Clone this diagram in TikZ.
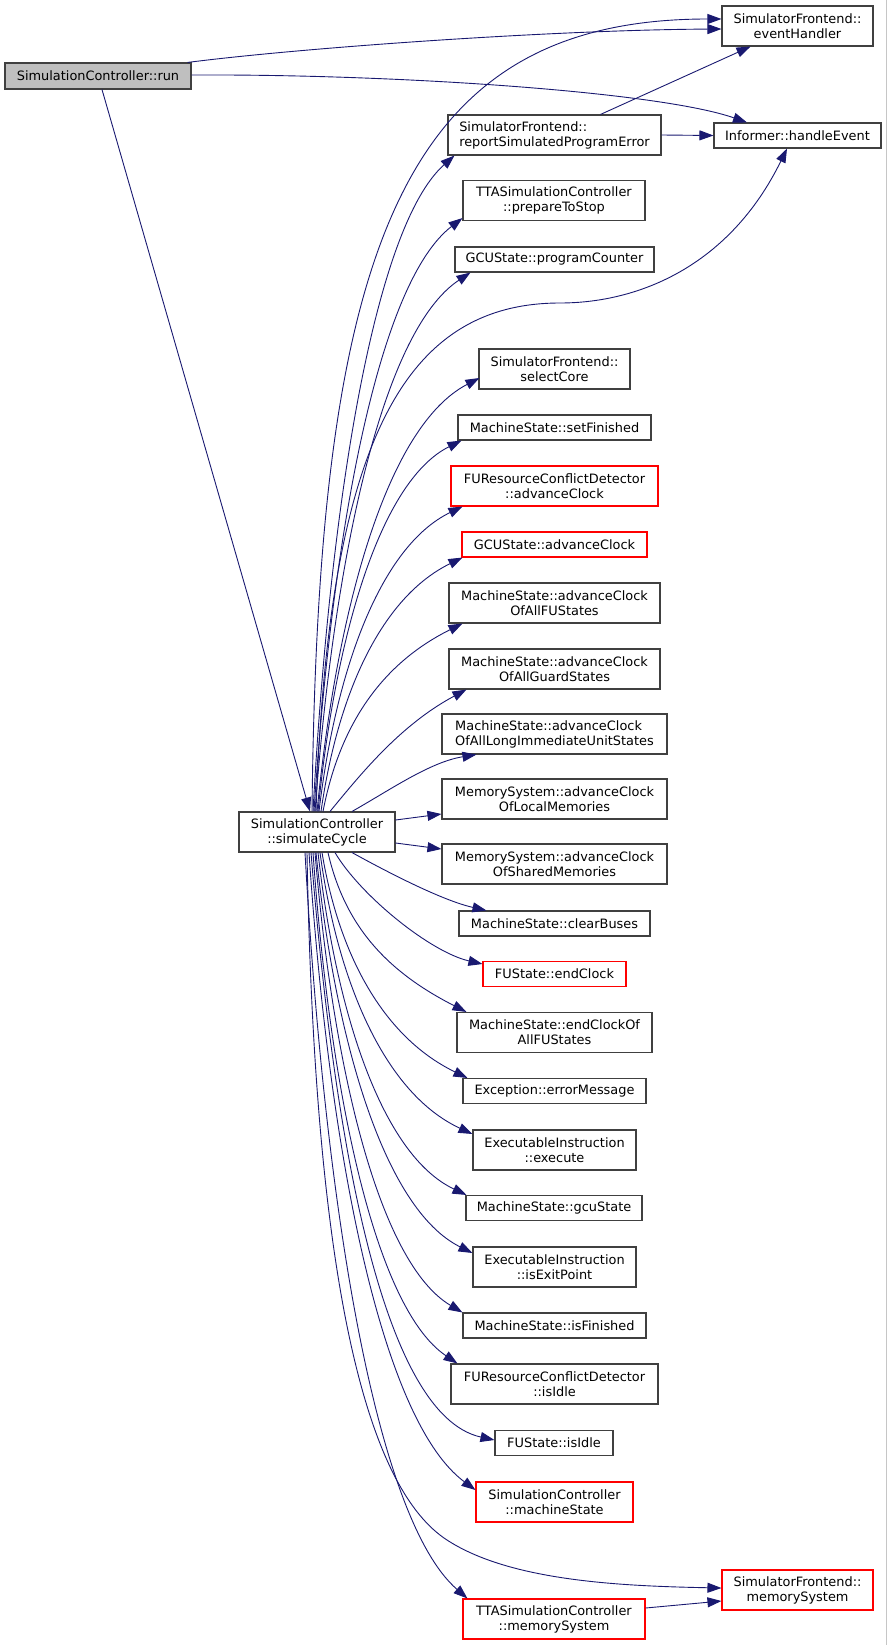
\documentclass[tikz,border=0pt]{standalone}
\usepackage{fontspec}
\setmainfont{DejaVu Sans}
\usetikzlibrary{arrows.meta,calc}
\definecolor{edgecol}{HTML}{191970}
\definecolor{boxcol}{HTML}{404040}
\definecolor{runfill}{HTML}{BFBFBF}
\begin{document}
\begin{tikzpicture}[x=1pt,y=-1pt,
  box/.style={draw=boxcol, line width=1.1pt, inner sep=0pt, align=center,
    font=\fontsize{12.9}{15}\selectfont, text=black},
  redbox/.style={box, draw=red},
  edge/.style={draw=edgecol, line width=0.9pt, -{Triangle[length=14pt,width=10pt]}}]
\useasboundingbox (0,0) rectangle (887,1645);
\draw[gray!45, line width=1pt] (886.5,0) -- (886.5,1645);

% nodes
\node[box, fill=runfill, minimum width=186, minimum height=26] (run) at (98,76) {SimulationController::run};
\node[box, minimum width=156, minimum height=40] (sc) at (317,832) {SimulationController\\::simulateCycle};
\node[box, minimum width=151, minimum height=40] (eh) at (797.5,26) {SimulatorFrontend::\\eventHandler};
\node[box, minimum width=167, minimum height=25] (he) at (797.5,135.5) {Informer::handleEvent};
\node[box, align=left, minimum width=213, minimum height=40] (rep) at (554.5,135) {SimulatorFrontend::\\reportSimulatedProgramError};
\node[box, minimum width=182, minimum height=40] (pts) at (554,200.5) {TTASimulationController\\::prepareToStop};
\node[box, minimum width=199, minimum height=25] (pc) at (554.5,259.5) {GCUState::programCounter};
\node[box, minimum width=151, minimum height=40] (selc) at (554.5,369) {SimulatorFrontend::\\selectCore};
\node[box, minimum width=193, minimum height=25] (setf) at (554.5,427.5) {MachineState::setFinished};
\node[redbox, minimum width=207, minimum height=40] (furac) at (554.5,486) {FUResourceConflictDetector\\::advanceClock};
\node[redbox, minimum width=185, minimum height=25] (gcuac) at (554.5,544.5) {GCUState::advanceClock};
\node[box, minimum width=211, minimum height=40] (acfu) at (554.5,603) {MachineState::advanceClock\\OfAllFUStates};
\node[box, minimum width=211, minimum height=40] (acg) at (554.5,669) {MachineState::advanceClock\\OfAllGuardStates};
\node[box, align=left, minimum width=225, minimum height=40] (acli) at (554.5,734) {MachineState::advanceClock\\OfAllLongImmediateUnitStates};
\node[box, minimum width=225, minimum height=40] (aclm) at (554.5,799) {MemorySystem::advanceClock\\OfLocalMemories};
\node[box, minimum width=225, minimum height=40] (acsm) at (554.5,864) {MemorySystem::advanceClock\\OfSharedMemories};
\node[box, minimum width=191, minimum height=25] (cb) at (554.5,923.5) {MachineState::clearBuses};
\node[redbox, minimum width=143, minimum height=25] (fuec) at (554.5,974) {FUState::endClock};
\node[box, minimum width=195, minimum height=40] (ecof) at (554.5,1032.5) {MachineState::endClockOf\\AllFUStates};
\node[box, minimum width=183, minimum height=25] (em) at (554.5,1091) {Exception::errorMessage};
\node[box, minimum width=163, minimum height=40] (ex) at (554.5,1150) {ExecutableInstruction\\::execute};
\node[box, minimum width=176, minimum height=25] (gcus) at (554,1208) {MachineState::gcuState};
\node[box, minimum width=163, minimum height=40] (iep) at (554.5,1267) {ExecutableInstruction\\::isExitPoint};
\node[box, minimum width=183, minimum height=25] (isf) at (554.5,1325.5) {MachineState::isFinished};
\node[box, minimum width=207, minimum height=40] (furi) at (554.5,1384) {FUResourceConflictDetector\\::isIdle};
\node[box, minimum width=118, minimum height=25] (fui) at (554,1443) {FUState::isIdle};
\node[redbox, minimum width=157, minimum height=40] (ms) at (554.5,1502) {SimulationController\\::machineState};
\node[redbox, minimum width=151, minimum height=40] (sfms) at (797.5,1590) {SimulatorFrontend::\\memorySystem};
\node[redbox, minimum width=182, minimum height=40] (ttams) at (554,1619) {TTASimulationController\\::memorySystem};

% edges from run
\draw[edge] ($(run.south)+(4,0)$) -- ($(sc.north)+(-7,0)$);
\draw[edge] ($(run.north east)+(-4,0)$) .. controls (300,48) and (550,30) .. ($(eh.west)+(0,3)$);
\draw[edge] ($(run.east)+(0,-1)$) .. controls (400,74) and (660,92) .. ($(he.north)+(-50.5,0)$);
% edges from rep
\draw[edge] ($(rep.north)+(46,0)$) -- ($(eh.south)+(-47,0)$);
\draw[edge] (rep.east) -- (he.west);
% upward edges from simulateCycle
\draw[edge] ($(sc.north)+(-5,0)$) .. controls (318,250) and (400,19) .. ($(eh.west)+(0,-7)$);
\draw[edge] ($(sc.north)+(-4,0)$) .. controls (330,503) and (374,227) .. ($(rep.south west)+(7,0)$);
\draw[edge] ($(sc.north)+(-3,0)$) .. controls (332,533) and (378,283) .. ($(pts.south west)+(0,-3)$);
\draw[edge] ($(sc.north)+(-2,0)$) .. controls (334,558) and (382,331) .. ($(pc.south west)+(16,0)$);
\draw[edge] ($(sc.north)+(-1,0)$) .. controls (328,450) and (400,303) .. (560,303) .. controls (640,303) and (730,265) .. ($(he.south)+(-10.5,0)$);
\draw[edge] (sc.north) .. controls (337,608) and (387,426) .. ($(selc.west)+(1,9)$);
\draw[edge] ($(sc.north)+(1,0)$) .. controls (335,637) and (380,481) .. ($(setf.south west)+(4,0)$);
\draw[edge] ($(sc.north)+(2,0)$) .. controls (336,668) and (381,546) .. ($(furac.south west)+(12,0)$);
\draw[edge] ($(sc.north)+(4,0)$) .. controls (338,692) and (382,597) .. ($(gcuac.south west)+(1,0)$);
\draw[edge] ($(sc.north)+(6,0)$) .. controls (340,723) and (383,663) .. ($(acfu.south west)+(14,0)$);
\draw[edge] ($(sc.north)+(13,0)$) .. controls (360,775) and (400,725) .. ($(acg.south west)+(18,0)$);
\draw[edge] ($(sc.north)+(35,0)$) .. controls (390,790) and (430,762) .. ($(acli.south west)+(35,0)$);
\draw[edge] ($(sc.east)+(0,-12)$) -- ($(aclm.west)+(0,15)$);
\draw[edge] ($(sc.east)+(0,11)$) -- ($(acsm.west)+(0,-15)$);
% downward edges from simulateCycle
\draw[edge] ($(sc.south)+(35,0)$) .. controls (380,868) and (440,900) .. ($(cb.north west)+(28,0)$);
\draw[edge] ($(sc.south)+(18,0)$) .. controls (360,895) and (430,952) .. ($(fuec.west)+(0,-10)$);
\draw[edge] ($(sc.south)+(11,0)$) .. controls (345,927) and (388,972) .. ($(ecof.north west)+(10,0)$);
\draw[edge] ($(sc.south)+(5,0)$) .. controls (339.5,958) and (385,1038) .. ($(em.north west)+(5,0)$);
\draw[edge] ($(sc.south)+(3,0)$) .. controls (338,985) and (386,1094) .. ($(ex.west)+(0,-16)$);
\draw[edge] ($(sc.south)+(1,0)$) .. controls (336,1013) and (382,1155) .. ($(gcus.north west)+(1,0)$);
\draw[edge] ($(sc.south)+(-1,0)$) .. controls (335,1040) and (384,1209) .. ($(iep.west)+(0,-14)$);
\draw[edge] ($(sc.south)+(-2,0)$) .. controls (333,1069) and (379,1263) .. (isf.north west);
\draw[edge] ($(sc.south)+(-4,0)$) .. controls (330,1093) and (375,1308) .. ($(furi.north west)+(7,0)$);
\draw[edge] ($(sc.south)+(-6,0)$) .. controls (333,1128) and (380,1415) .. ($(fui.west)+(0,-3)$);
\draw[edge] ($(sc.south)+(-8,0)$) .. controls (329,1152) and (381,1420) .. ($(ms.west)+(0,-12)$);
\draw[edge] ($(sc.south)+(-10,0)$) .. controls (315,1300) and (370,1490) .. (447,1540) .. controls (510,1581) and (620,1586) .. ($(sfms.west)+(0,-2)$);
\draw[edge] ($(sc.south)+(-12,0)$) .. controls (324.6,1203.6) and (375,1518) .. ($(ttams.north west)+(5,0)$);
\draw[edge] ($(ttams.east)+(0,-11)$) -- ($(sfms.west)+(0,11)$);
\end{tikzpicture}
\end{document}
